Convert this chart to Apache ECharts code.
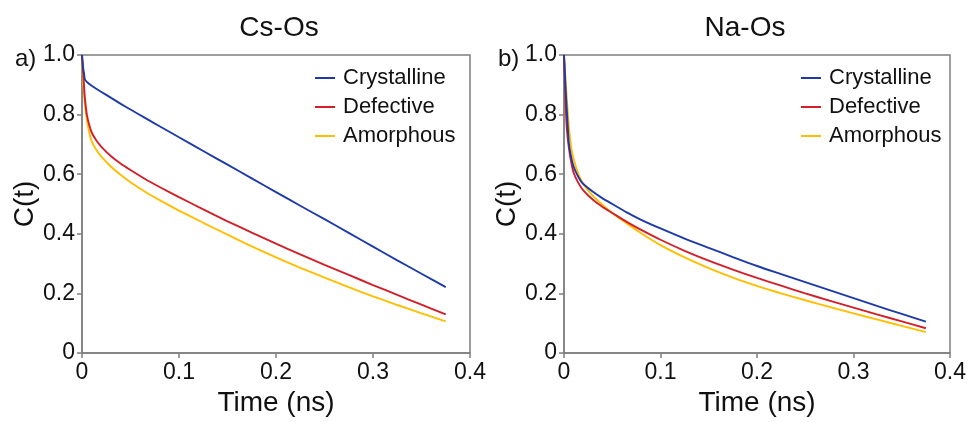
<!DOCTYPE html>
<html>
<head>
<meta charset="utf-8">
<script src="https://cdn.jsdelivr.net/npm/echarts@6/dist/echarts.min.js"></script>
<style>
  html, body { margin: 0; padding: 0; background: #fff; }
  #chart { width: 969px; height: 422px; }
</style>
</head>
<body>
<div id="chart"></div>
<script>
// data
var time = [0, 0.001, 0.002, 0.003, 0.005, 0.0075, 0.01, 0.015, 0.02, 0.03, 0.04, 0.05, 0.065, 0.08,
            0.1, 0.125, 0.15, 0.175, 0.2, 0.225, 0.25, 0.275, 0.3, 0.325, 0.35, 0.375];

var csCrystalline = [1.0, 0.962, 0.94, 0.918, 0.91, 0.903, 0.897, 0.886, 0.876, 0.856, 0.836, 0.817, 0.789, 0.761,
                     0.724, 0.678, 0.632, 0.586, 0.54, 0.494, 0.449, 0.403, 0.357, 0.311, 0.266, 0.221];
var csDefective   = [1.0, 0.95, 0.9, 0.855, 0.80, 0.765, 0.74, 0.712, 0.692, 0.66, 0.635, 0.614, 0.584, 0.557,
                     0.523, 0.482, 0.442, 0.404, 0.367, 0.331, 0.296, 0.262, 0.228, 0.195, 0.162, 0.13];
var csAmorphous   = [1.0, 0.92, 0.876, 0.835, 0.783, 0.74, 0.71, 0.68, 0.659, 0.625, 0.597, 0.573, 0.541, 0.513,
                     0.478, 0.437, 0.397, 0.358, 0.321, 0.286, 0.253, 0.221, 0.19, 0.161, 0.133, 0.106];

var naCrystalline = [1.0, 0.93, 0.865, 0.81, 0.705, 0.655, 0.625, 0.59, 0.567, 0.541, 0.519, 0.5, 0.472, 0.447,
                     0.418, 0.384, 0.353, 0.322, 0.292, 0.265, 0.238, 0.211, 0.184, 0.157, 0.131, 0.105];
var naDefective   = [1.0, 0.9, 0.81, 0.75, 0.69, 0.64, 0.605, 0.57, 0.546, 0.514, 0.49, 0.47, 0.44, 0.413,
                     0.38, 0.343, 0.31, 0.28, 0.252, 0.226, 0.2, 0.176, 0.152, 0.129, 0.106, 0.083];
var naAmorphous   = [1.0, 0.95, 0.9, 0.85, 0.76, 0.69, 0.65, 0.6, 0.567, 0.527, 0.497, 0.47, 0.435, 0.402,
                     0.362, 0.321, 0.285, 0.253, 0.225, 0.2, 0.177, 0.155, 0.133, 0.112, 0.091, 0.07];

var seriesNames = ['Crystalline', 'Defective', 'Amorphous'];
var xTickLabels = ['0', '0.1', '0.2', '0.3', '0.4'];
var yTickLabels = ['0', '0.2', '0.4', '0.6', '0.8', '1.0'];
var panelTitles = ['Cs-Os', 'Na-Os'];
var panelTags = ['a)', 'b)'];

var colors = ['#1d3aa8', '#d1202a', '#ffbe00'];
var font = 'Liberation Sans, Arial, sans-serif';
var axisGray = '#7f7f7f';

function pairs(ys) {
    return time.map(function (t, i) { return [t, ys[i]]; });
}

var chart = echarts.init(document.getElementById('chart'));

var grids = [
    { left: 82, right: 499, top: 55, bottom: 69 },
    { left: 564, right: 17, top: 55, bottom: 69 }
];

function xAxisFor(i) {
    return {
        type: 'value', gridIndex: i, min: 0, max: 0.4, interval: 0.1,
        name: 'Time (ns)', nameLocation: 'middle', nameGap: 36,
        nameTextStyle: { fontFamily: font, fontSize: 28, color: '#111' },
        axisLine: { lineStyle: { color: axisGray, width: 1.5 } },
        axisTick: { show: true, length: 5, lineStyle: { color: axisGray, width: 1.5 } },
        axisLabel: {
            fontFamily: font, fontSize: 23, color: '#111', margin: 8,
            formatter: function (v, idx) { return xTickLabels[idx]; }
        },
        splitLine: { show: false }
    };
}

function yAxisFor(i) {
    return {
        type: 'value', gridIndex: i, min: 0, max: 1, interval: 0.2,
        name: 'C(t)', nameLocation: 'middle', nameGap: 40,
        nameTextStyle: { fontFamily: font, fontSize: 28, color: '#111' },
        axisLine: { show: true, lineStyle: { color: axisGray, width: 1.5 } },
        axisTick: { show: true, length: 5, lineStyle: { color: axisGray, width: 1.5 } },
        axisLabel: {
            fontFamily: font, fontSize: 23, color: '#111', margin: 7,
            formatter: function (v, idx) { return yTickLabels[idx]; }
        },
        splitLine: { show: false }
    };
}

var panelData = [
    [csCrystalline, csDefective, csAmorphous],
    [naCrystalline, naDefective, naAmorphous]
];

var series = [];
panelData.forEach(function (set, p) {
    set.forEach(function (ys, k) {
        series.push({
            name: seriesNames[k],
            type: 'line',
            xAxisIndex: p, yAxisIndex: p,
            data: pairs(ys),
            showSymbol: false,
            smooth: 0.2,
            lineStyle: { color: colors[k], width: 1.9 },
            itemStyle: { color: colors[k] },
            z: 3 - k
        });
    });
});

var legendStyle = { fontFamily: font, fontSize: 22, color: '#111', lineHeight: 22, padding: [0, 0, 0, 3] };

chart.setOption({
    animation: false,
    backgroundColor: '#fff',
    title: [
        { text: panelTitles[0], left: 274, top: 9, textAlign: 'center', textStyle: { fontFamily: font, fontSize: 28, fontWeight: 'normal', color: '#111' } },
        { text: panelTitles[1], left: 740, top: 9, textAlign: 'center', textStyle: { fontFamily: font, fontSize: 28, fontWeight: 'normal', color: '#111' } },
        { text: panelTags[0], left: 10, top: 42, textStyle: { fontFamily: font, fontSize: 24, fontWeight: 'normal', color: '#111' } },
        { text: panelTags[1], left: 493, top: 42, textStyle: { fontFamily: font, fontSize: 24, fontWeight: 'normal', color: '#111' } }
    ],
    legend: [
        { data: seriesNames, orient: 'vertical', left: 315, top: 67, itemWidth: 20, itemHeight: 2, itemGap: 7,
          icon: 'rect', textStyle: legendStyle, padding: 0, selectedMode: false },
        { data: seriesNames, orient: 'vertical', left: 801, top: 67, itemWidth: 20, itemHeight: 2, itemGap: 7,
          icon: 'rect', textStyle: legendStyle, padding: 0, selectedMode: false }
    ],
    grid: grids.map(function (g) {
        return Object.assign({ show: true, borderColor: axisGray, borderWidth: 1.5, backgroundColor: 'transparent' }, g);
    }),
    xAxis: [xAxisFor(0), xAxisFor(1)],
    yAxis: [yAxisFor(0), yAxisFor(1)],
    series: series
});
</script>
</body>
</html>
